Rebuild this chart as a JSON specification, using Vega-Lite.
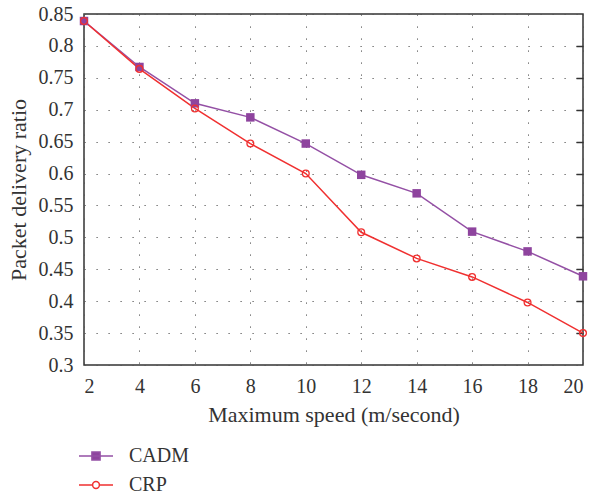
{
  "$schema": "https://vega.github.io/schema/vega-lite/v6.json",
  "width": 499,
  "height": 351,
  "autosize": "none",
  "padding": {"left": 84, "top": 14, "right": 12, "bottom": 129},
  "config": {
    "view": {"stroke": "#333", "strokeWidth": 1.5},
    "font": "Liberation Serif",
    "axis": {
      "labelFont": "Liberation Serif", "labelFontSize": 20, "labelColor": "#333",
      "titleFont": "Liberation Serif", "titleFontSize": 22, "titleFontWeight": "normal", "titleColor": "#333",
      "gridColor": "#555", "gridDash": [1.2, 10.8], "gridWidth": 1, "gridOpacity": 1,
      "domain": false, "ticks": false
    }
  },
  "data": {"values": [
    {"speed": 2, "ratio": 0.839, "series": "CADM"},
    {"speed": 4, "ratio": 0.767, "series": "CADM"},
    {"speed": 6, "ratio": 0.710, "series": "CADM"},
    {"speed": 8, "ratio": 0.688, "series": "CADM"},
    {"speed": 10, "ratio": 0.647, "series": "CADM"},
    {"speed": 12, "ratio": 0.598, "series": "CADM"},
    {"speed": 14, "ratio": 0.569, "series": "CADM"},
    {"speed": 16, "ratio": 0.509, "series": "CADM"},
    {"speed": 18, "ratio": 0.478, "series": "CADM"},
    {"speed": 20, "ratio": 0.439, "series": "CADM"},
    {"speed": 2, "ratio": 0.839, "series": "CRP"},
    {"speed": 4, "ratio": 0.764, "series": "CRP"},
    {"speed": 6, "ratio": 0.702, "series": "CRP"},
    {"speed": 8, "ratio": 0.647, "series": "CRP"},
    {"speed": 10, "ratio": 0.600, "series": "CRP"},
    {"speed": 12, "ratio": 0.508, "series": "CRP"},
    {"speed": 14, "ratio": 0.467, "series": "CRP"},
    {"speed": 16, "ratio": 0.438, "series": "CRP"},
    {"speed": 18, "ratio": 0.398, "series": "CRP"},
    {"speed": 20, "ratio": 0.350, "series": "CRP"}
  ]},
  "resolve": {"axis": {"y": "independent"}},
  "layer": [
    {
      "mark": {"type": "line", "strokeWidth": 1.5},
      "encoding": {
        "x": {"field": "speed", "type": "quantitative",
              "scale": {"domain": [2, 20], "nice": false, "zero": false},
              "axis": {"values": [2, 4, 6, 8, 10, 12, 14, 16, 18, 20], "title": "Maximum speed (m/second)",
                       "labelPadding": 11, "titlePadding": 8, "grid": true}},
        "y": {"field": "ratio", "type": "quantitative",
              "scale": {"domain": [0.3, 0.85], "nice": false, "zero": false},
              "axis": {"orient": "left", "values": [0.3, 0.35, 0.4, 0.45, 0.5, 0.55, 0.6, 0.65, 0.7, 0.75, 0.8, 0.85],
                       "format": ".2~f", "title": "Packet delivery ratio", "labelPadding": 11, "titlePadding": 8, "grid": true}},
        "color": {"field": "series", "type": "nominal",
                  "scale": {"domain": ["CADM", "CRP"], "range": ["#9450A5", "#F03030"]},
                  "legend": {
                    "orient": "none", "legendX": -6, "legendY": 424, "title": null,
                    "labelFont": "Liberation Serif", "labelFontSize": 20, "labelColor": "#333",
                    "symbolSize": 1156, "labelOffset": 15, "rowPadding": 1, "symbolStrokeWidth": 1.5,
                    "encode": {"symbols": {"update": {
                      "shape": {"signal": "datum.value === 'CADM' ? 'M-1,0H1M-0.24,-0.24H0.24V0.24H-0.24Z' : 'M-1,0H-0.2M0.2,0H1M0.2,0A0.2,0.2 0 1,1 -0.2,0A0.2,0.2 0 1,1 0.2,0Z'"},
                      "fill": {"signal": "datum.value === 'CADM' ? '#8E449E' : 'transparent'"},
                      "stroke": {"signal": "datum.value === 'CADM' ? '#A77BB8' : '#F03030'"},
                      "strokeWidth": {"value": 1.5},
                      "opacity": {"value": 1}
                    }}}
                  }}
      }
    },
    {
      "transform": [{"filter": "datum.series === 'CADM'"}],
      "mark": {"type": "point", "shape": "square", "filled": true, "color": "#8E449E", "size": 72, "opacity": 1},
      "encoding": {
        "x": {"field": "speed", "type": "quantitative"},
        "y": {"field": "ratio", "type": "quantitative", "axis": null}
      }
    },
    {
      "transform": [{"filter": "datum.series === 'CRP'"}],
      "mark": {"type": "point", "shape": "circle", "filled": false, "color": "#F03030", "size": 46, "strokeWidth": 1.3, "opacity": 1},
      "encoding": {
        "x": {"field": "speed", "type": "quantitative"},
        "y": {"field": "ratio", "type": "quantitative",
              "axis": {"orient": "right", "values": [0.35, 0.4, 0.45, 0.5, 0.55, 0.6, 0.65, 0.7, 0.75, 0.8],
                       "labels": false, "title": null, "grid": false, "ticks": true, "tickSize": -7, "tickColor": "#333", "tickWidth": 1.5}}
      }
    }
  ]
}
